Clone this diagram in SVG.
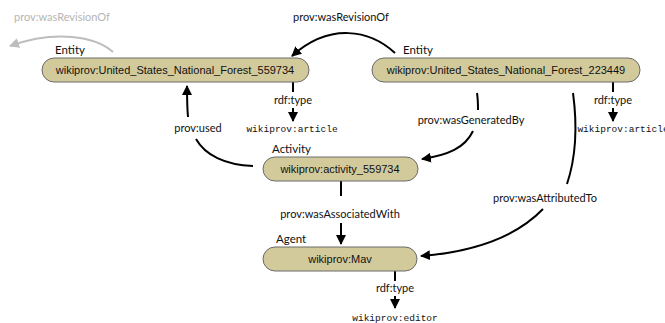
<svg xmlns="http://www.w3.org/2000/svg" width="665" height="323" viewBox="0 0 665 323">
<defs>
<style>
.node{fill:#d3ca9c;stroke:#6a6a6a;stroke-width:1}
.nt{font-family:"Liberation Sans",Arial,sans-serif;font-size:11px;fill:#111;text-anchor:middle}
.ty{font-family:Lato,"Open Sans",sans-serif;font-size:11.5px;fill:#111}
.el{font-family:Lato,"Open Sans",sans-serif;font-size:11px;fill:#111;text-anchor:middle}
.mono{font-family:"Liberation Mono","Courier New",monospace;font-size:9.5px;fill:#111;text-anchor:middle}
.e{fill:none;stroke:#000;stroke-width:2}
.g{fill:none;stroke:#bdbdbd;stroke-width:2}
</style>
<marker id="ah" viewBox="0 0 10 10" refX="9" refY="5" markerWidth="5" markerHeight="5" orient="auto" markerUnits="strokeWidth">
<path d="M0,0 L10,5 L0,10 z" fill="#000"/>
</marker>
<marker id="ahg" viewBox="0 0 10 10" refX="9" refY="5" markerWidth="5" markerHeight="5" orient="auto" markerUnits="strokeWidth">
<path d="M0,0 L10,5 L0,10 z" fill="#bdbdbd"/>
</marker>
</defs>
<g id="connectors">
<path class="g" d="M113,52 C95,36 55,30 10,46" marker-end="url(#ahg)"/>
<text class="el" x="62" y="21" style="fill:#b5b5b5">prov:wasRevisionOf</text>
<path class="e" d="M395,53 C370,30 330,22 292,56" marker-end="url(#ah)"/>
<text class="el" x="341" y="21">prov:wasRevisionOf</text>
<path class="e" d="M293,82 L293,92"/>
<text class="el" x="293" y="104">rdf:type</text>
<path class="e" d="M293,108 L293,121" marker-end="url(#ah)"/>
<text class="mono" x="292" y="132">wikiprov:article</text>
<path class="e" d="M613,82 L613,92"/>
<text class="el" x="613" y="104">rdf:type</text>
<path class="e" d="M613,108 L613,121" marker-end="url(#ah)"/>
<text class="mono" x="623" y="132">wikiprov:article</text>
<path class="e" d="M188,117 C187,106 187,96 187,86" marker-end="url(#ah)"/>
<text class="el" x="198" y="132">prov:used</text>
<path class="e" d="M196,139 C205,155 225,165 253,166"/>
<path class="e" d="M477,93 C478,99 478,104 478,110"/>
<text class="el" x="471" y="124">prov:wasGeneratedBy</text>
<path class="e" d="M473,131 C465,148 448,155 422,159" marker-end="url(#ah)"/>
<path class="e" d="M573,93 C578,130 575,160 567,184"/>
<text class="el" x="545" y="202">prov:wasAttributedTo</text>
<path class="e" d="M543,209 C515,238 470,252 421,256" marker-end="url(#ah)"/>
<path class="e" d="M341,181 L341,196"/>
<text class="el" x="340" y="218">prov:wasAssociatedWith</text>
<path class="e" d="M341,223 L341,244" marker-end="url(#ah)"/>
<path class="e" d="M395,271 L395,281"/>
<text class="el" x="395" y="292">rdf:type</text>
<path class="e" d="M395,296 L395,308" marker-end="url(#ah)"/>
<text class="mono" x="395" y="321">wikiprov:editor</text>
</g>
<g id="n1">
<text class="ty" x="55" y="54">Entity</text>
<rect class="node" x="42" y="58" width="267" height="24" rx="12"/>
<text class="nt" x="175" y="74">wikiprov:United_States_National_Forest_559734</text>
</g>
<g id="n2">
<text class="ty" x="403" y="54">Entity</text>
<rect class="node" x="372" y="58" width="268" height="24" rx="12"/>
<text class="nt" x="506" y="74">wikiprov:United_States_National_Forest_223449</text>
</g>
<g id="n3">
<text class="ty" x="272" y="153">Activity</text>
<rect class="node" x="263" y="157" width="155" height="24" rx="12"/>
<text class="nt" x="340" y="173">wikiprov:activity_559734</text>
</g>
<g id="n4">
<text class="ty" x="276" y="243">Agent</text>
<rect class="node" x="263" y="247" width="154" height="24" rx="12"/>
<text class="nt" x="340" y="263">wikiprov:Mav</text>
</g>
</svg>
